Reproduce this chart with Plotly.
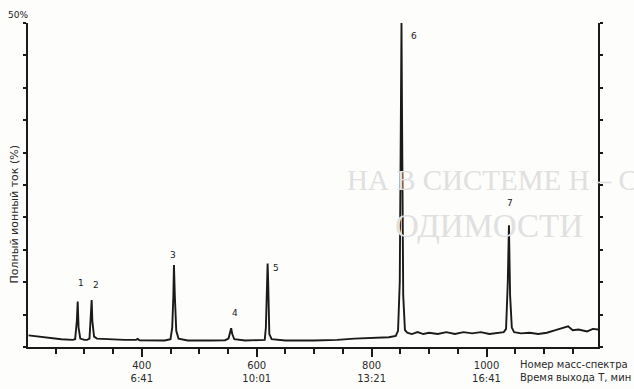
import plotly.graph_objects as go

# Scan number (mass spectrum number) and total ion current (%)
scan = [203, 230, 260, 280, 284, 287, 288.5, 290, 293, 300, 305,
        309, 311, 312.8, 314, 317, 322, 340, 370, 390, 393, 396, 420, 440,
        450, 453, 455, 456, 457.5, 460, 464, 480, 520, 545,
        551, 554, 555.5, 557.5, 561, 580, 605, 614,
        616, 618, 619, 620, 622, 626, 650, 700, 740, 770, 800, 830, 842,
        846, 849, 851, 852, 853, 855, 858, 862,
        870, 880, 890, 900, 915, 930, 945, 960, 975, 990, 1005, 1020, 1030,
        1034, 1037, 1039, 1041, 1044, 1048,
        1060, 1075, 1090, 1105, 1120, 1135, 1142, 1150, 1160, 1175, 1185, 1194]
tic = [1.8, 1.5, 1.2, 1.1, 1.2, 4.0, 7.0, 3.0, 1.3, 1.1, 1.1,
       1.3, 4.5, 7.25, 4.0, 1.6, 1.3, 1.2, 1.1, 1.1, 1.25, 1.05, 1.0, 1.0,
       1.2, 3.0, 8.0, 12.65, 8.0, 2.5, 1.3, 1.0, 1.0, 1.05,
       1.3, 2.4, 2.9, 2.0, 1.2, 1.0, 1.0, 1.1,
       3.0, 10.0, 12.9, 10.0, 2.0, 1.2, 1.0, 1.0, 1.1, 1.3, 1.4, 1.5, 1.7,
       2.5, 10.0, 35.0, 50.0, 35.0, 8.0, 2.6, 2.2,
       2.0, 2.3, 2.0, 2.2, 2.0, 2.3, 2.0, 2.3, 2.1, 2.3, 2.0, 2.2, 2.3,
       2.8, 10.0, 18.8, 8.0, 3.0, 2.3,
       2.1, 2.2, 2.0, 2.2, 2.6, 3.0, 3.2, 2.6, 2.7, 2.4, 2.8, 2.7]

# Peak numbers and label positions
peak_labels = ["1", "2", "3", "4", "5", "6", "7"]
peak_label_x = [295, 321, 455, 563, 634, 873, 1041]
peak_label_y = [9.9, 9.6, 14.2, 5.3, 12.2, 48.0, 22.2]

# X tick labels: scan number and retention time
tick_scans = [400, 600, 800, 1000]
tick_times = ["6:41", "10:01", "13:21", "16:41"]

ink = "#1a1a1a"
font = "DejaVu Sans"

fig = go.Figure()

# faint show-through text from the scanned page
fig.add_annotation(text="НА В СИСТЕМЕ Н – С – N – О", xref="paper", yref="paper",
                   x=0.557, y=0.515, xanchor="left", yanchor="middle", showarrow=False,
                   font=dict(family="Liberation Serif", size=29, color="#e0e0e0"))
fig.add_annotation(text="ОДИМОСТИ", xref="paper", yref="paper",
                   x=0.64, y=0.375, xanchor="left", yanchor="middle", showarrow=False,
                   font=dict(family="Liberation Serif", size=33, color="#e0e0e0"))

fig.add_trace(go.Scatter(x=scan, y=tic, mode="lines",
                         line=dict(color=ink, width=1.9), hoverinfo="skip",
                         showlegend=False))

for t, x, y in zip(peak_labels, peak_label_x, peak_label_y):
    fig.add_annotation(text=t, x=x, y=y, showarrow=False,
                       font=dict(family=font, size=9, color=ink))

fig.update_xaxes(range=[202, 1194], showline=True, linewidth=2, linecolor=ink,
                 mirror=False, showgrid=False, zeroline=False, automargin=False,
                 tickmode="array", tickvals=tick_scans,
                 ticktext=[f"{s}<br>{t}" for s, t in zip(tick_scans, tick_times)],
                 ticks="outside", ticklen=8, tickwidth=1.5, tickcolor=ink,
                 tickfont=dict(family=font, size=10, color="#2a2a2a"),
                 minor=dict(tick0=0, dtick=50, ticks="outside", ticklen=5,
                            tickwidth=1.5, tickcolor=ink, showgrid=False))
fig.update_yaxes(range=[0, 50], showline=True, linewidth=2, linecolor=ink,
                 mirror="ticks", showgrid=False, zeroline=False, automargin=False,
                 dtick=5, ticks="outside", ticklen=3, tickwidth=2, tickcolor=ink,
                 showticklabels=False)

fig.add_annotation(text="50%", xref="paper", yref="paper", x=-0.018, y=1.045,
                   showarrow=False, xanchor="center",
                   font=dict(family=font, size=9, color=ink))
fig.add_annotation(text="Полный ионный ток (%)", xref="paper", yref="paper",
                   x=-0.024, y=0.41, textangle=-90, showarrow=False,
                   xanchor="center", yanchor="middle",
                   font=dict(family=font, size=11, color="#2a2a2a"))
fig.add_annotation(text="Номер масс-спектра<br>Время выхода Т, мин",
                   xref="paper", yref="paper", x=0.86, y=-0.03,
                   xanchor="left", yanchor="top", align="left", showarrow=False,
                   font=dict(family=font, size=10, color="#2a2a2a"))

fig.update_layout(width=634, height=389,
                  margin=dict(l=28, r=36, t=23, b=42),
                  paper_bgcolor="#fdfdfb", plot_bgcolor="rgba(0,0,0,0)")

fig.write_html("out.html", config={"displayModeBar": False},
               post_script="document.body.style.margin='0px';")
